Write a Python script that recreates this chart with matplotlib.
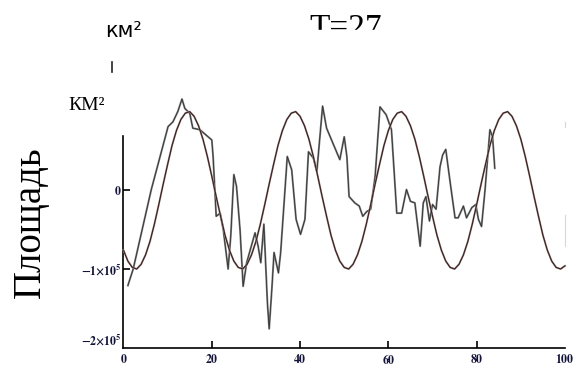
import numpy as np
import matplotlib
matplotlib.use("Agg")
import matplotlib.pyplot as plt
from matplotlib.lines import Line2D
from matplotlib.patches import Rectangle

### data (areas in units of 1e5 km^2) ###
SCALE = 1e5

# fitted periodic curve, sampled every 1 unit on x
model_x = np.arange(0, 101, 1)
model_y = [-0.76, -0.90, -0.98, -1.00, -0.94, -0.82, -0.65, -0.43, -0.18, 0.08,
           0.33, 0.57, 0.76, 0.90, 0.98, 1.00, 0.94, 0.82, 0.65, 0.43,
           0.18, -0.08, -0.33, -0.57, -0.76, -0.90, -0.98, -1.00, -0.94, -0.82,
           -0.65, -0.43, -0.18, 0.08, 0.33, 0.57, 0.76, 0.90, 0.98, 1.00,
           0.94, 0.82, 0.65, 0.43, 0.18, -0.08, -0.33, -0.57, -0.76, -0.90,
           -0.98, -1.00, -0.94, -0.82, -0.65, -0.43, -0.18, 0.08, 0.33, 0.57,
           0.76, 0.90, 0.98, 1.00, 0.94, 0.82, 0.65, 0.43, 0.18, -0.08,
           -0.33, -0.57, -0.76, -0.90, -0.98, -1.00, -0.94, -0.82, -0.65, -0.43,
           -0.18, 0.08, 0.33, 0.57, 0.76, 0.90, 0.98, 1.00, 0.94, 0.82,
           0.65, 0.43, 0.18, -0.08, -0.33, -0.57, -0.76, -0.90, -0.98, -1.00,
           -0.96]

# observed series
obs_x = [1.0, 2.2, 6.3, 10.1, 11.2, 12.3, 13.25, 13.9, 15.0, 15.7,
         17.3, 20.0, 20.3, 21.0, 21.9, 22.6, 23.7, 24.3, 25.0, 25.6,
         26.4, 27.1, 27.9, 29.8, 30.5, 31.1, 31.8, 32.6, 33.0, 33.6,
         34.1, 35.1, 35.6, 37.1, 38.1, 39.1, 40.1, 41.1, 41.9, 43.0,
         43.8, 45.1, 46.0, 49.0, 50.0, 50.6, 51.1, 52.4, 53.4, 54.2,
         55.1, 56.0, 57.0, 58.1, 59.5, 60.7, 61.9, 63.0, 64.1, 65.0,
         66.0, 67.2, 67.9, 68.5, 69.3, 70.0, 70.8, 71.7, 72.3, 73.0,
         73.9, 75.1, 75.8, 77.0, 77.7, 78.9, 79.8, 80.4, 81.1, 81.9,
         83.0, 83.6, 84.1]
obs_y = [-1.21, -1.00, 0.01, 0.81, 0.87, 1.00, 1.16, 1.04, 0.98, 0.79,
         0.77, 0.64, 0.43, -0.33, -0.29, -0.50, -1.00, -0.58, 0.20, 0.05,
         -0.50, -1.22, -0.92, -0.54, -0.71, -0.92, -0.43, -1.43, -1.76, -1.26,
         -0.79, -1.05, -0.79, 0.43, 0.26, -0.37, -0.56, -0.37, 0.49, 0.41,
         0.24, 1.07, 0.79, 0.39, 0.68, 0.43, -0.08, -0.16, -0.20, -0.33,
         -0.27, -0.24, 0.18, 1.06, 0.96, 0.77, -0.29, -0.29, 0.01, -0.14,
         -0.16, -0.71, -0.16, -0.08, -0.39, -0.18, -0.24, 0.30, 0.45, 0.52,
         0.14, -0.35, -0.35, -0.20, -0.35, -0.22, -0.18, -0.37, -0.46, 0.01,
         0.77, 0.68, 0.28]

# faint scan marks at the right edge
edge_x = [100, 100]
edge_marks = [[0.87, 0.81], [-0.31, -0.71]]

xticks = [0, 20, 40, 60, 80, 100]
yticks = [-2, -1, 0]
ytick_labels = [r'$\mathbf{-2{\times}10^{5}}$', r'$\mathbf{-1{\times}10^{5}}$', r'$\mathbf{0}$']

plt.rcParams['mathtext.fontset'] = 'stix'
plt.rcParams['font.family'] = 'Liberation Serif'

fig = plt.figure(figsize=(5.8, 3.67), dpi=100)
ax = fig.add_axes([0.2129, 0.0526, 0.7612, 0.7076])

### curves ###
oy = np.array(obs_y) * SCALE
ax.plot(obs_x, oy, color='#808080', lw=1.4, clip_on=False, zorder=2)
ax.plot(obs_x, oy, color='#000000', lw=0.6, alpha=0.6, clip_on=False, zorder=2)

my = np.array(model_y) * SCALE
ax.plot(model_x, my, color='#a49a9a', lw=1.4, clip_on=False, zorder=3)
ax.plot(model_x, my, color='#3c1c1c', lw=0.8, clip_on=False, zorder=3)

for m in edge_marks:
    ax.plot(edge_x, np.array(m) * SCALE, color='#d8d8d8', lw=0.8, clip_on=False)

### axes styling ###
ax.set_xlim(0, 100)
ax.set_ylim(-2 * SCALE, 1.3 * SCALE)
ax.spines['top'].set_visible(False)
ax.spines['right'].set_visible(False)
ax.spines['left'].set_bounds(-2 * SCALE, 0.69 * SCALE)
ax.spines['left'].set_linewidth(1.2)
ax.spines['bottom'].set_linewidth(1.2)

ax.set_xticks(xticks)
ax.set_xticklabels([r'$\mathbf{%d}$' % t for t in xticks])
ax.set_yticks(np.array(yticks) * SCALE)
ax.set_yticklabels(ytick_labels)
ax.tick_params(axis='x', direction='in', length=5, width=1.2, pad=4,
               labelsize=8.5, labelcolor='#14143a')
ax.tick_params(axis='y', direction='in', length=5, width=1.2, pad=1,
               labelsize=8.5, labelcolor='#14143a')
xt = ax.xaxis.get_major_ticks()
xt[0].tick1line.set_visible(False)
xt[-1].tick1line.set_visible(False)
yt = ax.yaxis.get_major_ticks()
yt[0].tick1line.set_visible(False)
yt[0].label1.set_va('bottom')

### labels ###
fig.text(105 / 580, 1 - 37 / 367, 'км²', family='DejaVu Sans', fontsize=15,
         ha='left', va='baseline')
fig.text(346 / 580, 1 - 37 / 367, 'T=27', fontsize=24, ha='center', va='baseline')
# the title is cut off at the bottom in the original
fig.add_artist(Rectangle((0.50, 1 - 48 / 367), 0.2, 18 / 367,
                         transform=fig.transFigure, color='white', zorder=10))
fig.text(68 / 580, 1 - 110 / 367, 'КМ²', fontsize=14, ha='left', va='baseline')
fig.text(30 / 580, 1 - 222 / 367, 'Площадь', fontsize=28, rotation=90,
         ha='center', va='center')
fig.add_artist(Line2D([112 / 580, 112 / 580], [1 - 72 / 367, 1 - 62 / 367],
                      transform=fig.transFigure, color='#222222', lw=1.2))

plt.savefig('out.png', dpi=100)
